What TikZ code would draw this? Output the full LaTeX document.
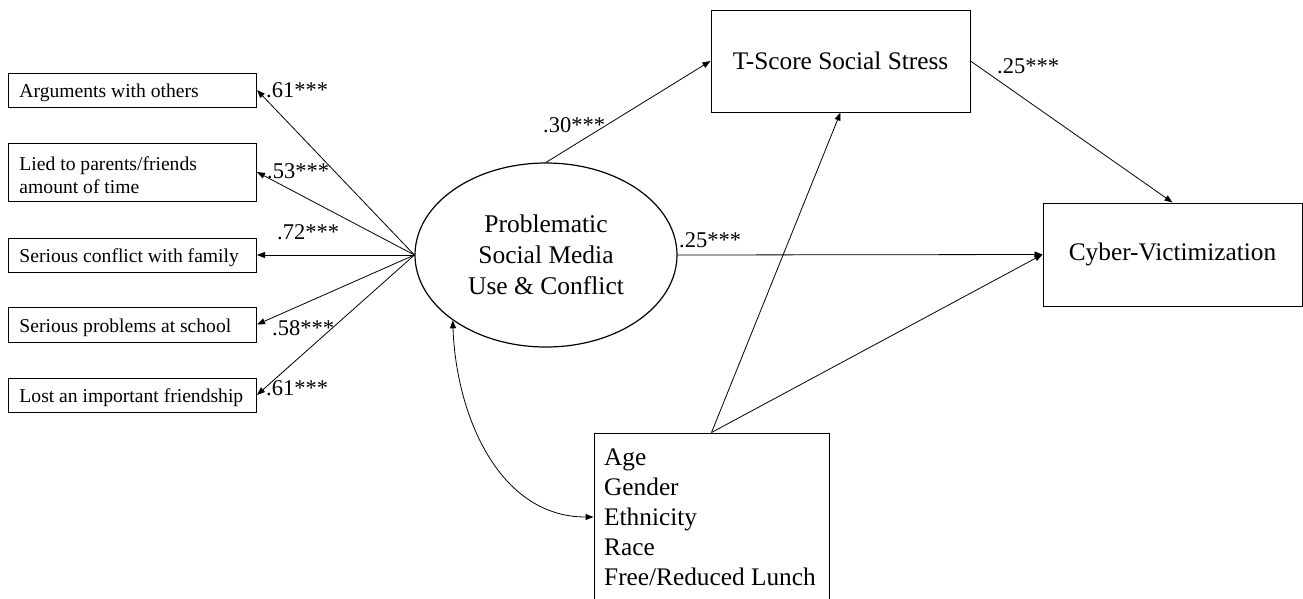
\documentclass[tikz,border=0pt]{standalone}
\usepackage{fontspec}
\setmainfont{Liberation Serif}
\usetikzlibrary{shapes.geometric,arrows.meta}
\newcommand{\indline}[1]{\makebox[226pt][l]{\raisebox{-3pt}[\height][\depth]{#1}}}
\tikzset{
  ind/.style={draw, line width=1pt, rectangle, minimum width=248pt, inner xsep=11pt, inner ysep=0pt, align=left, font=\fontsize{19.6}{23}\selectfont},
  bigbox/.style={draw, line width=1pt, rectangle, inner sep=0pt, font=\fontsize{25.3}{30}\selectfont},
  lat/.style={draw, line width=1.2pt, ellipse, minimum width=262pt, minimum height=184pt, inner sep=0pt, align=center, font=\fontsize{25.5}{31}\selectfont},
  coef/.style={anchor=base west, inner sep=0pt, font=\fontsize{22.5}{24}\selectfont},
  path/.style={line width=0.8pt, -{Triangle[length=8pt,width=6pt]}},
  cov/.style={line width=0.8pt, {Triangle[length=8pt,width=6pt]}-{Triangle[length=8pt,width=6pt]}}
}
\begin{document}
\begin{tikzpicture}[x=1pt,y=-1pt]
\useasboundingbox (0,0) rectangle (1303,598);
\clip (0,0) rectangle (1303,598);
% indicators
\node[ind, minimum height=34pt] (b1) at (132.5,90) {\indline{Arguments with others}};
\node[ind, minimum height=58pt] (b2) at (132.5,172) {\indline{Lied to parents/friends}\\\indline{amount of time}};
\node[ind, minimum height=34pt] (b3) at (132.5,255) {\indline{Serious conflict with family}};
\node[ind, minimum height=35pt] (b4) at (132.5,324.5) {\indline{Serious problems at school}};
\node[ind, minimum height=34pt] (b5) at (132.5,395) {\indline{Lost an important friendship}};
% latent
\node[lat] (psm) at (546,255) {Problematic\\Social Media\\Use \& Conflict};
% outcomes
\node[bigbox, minimum width=259pt, minimum height=102pt] (ts) at (840.5,61) {T-Score Social Stress};
\node[bigbox, minimum width=259pt, minimum height=103pt] (cv) at (1172.5,254.5) {Cyber-Victimization};
% covariates
\node[bigbox, minimum width=235pt, minimum height=168pt] (covb) at (711.5,517) {};
\node[anchor=north west, inner sep=0pt, align=left, font=\fontsize{25.3}{30}\selectfont] (covt) at (604,448.5) {Age\\Gender\\Ethnicity\\Race\\Free/Reduced Lunch};
% loadings
\draw[path] (psm.west) -- (b1.east);
\draw[path] (psm.west) -- (b2.east);
\draw[path] (psm.west) -- (b3.east);
\draw[path] (psm.west) -- (b4.east);
\draw[path] (psm.west) -- (b5.east);
% structural paths
\draw[path] (psm.north) -- (ts.west);
\draw[path] (psm.east) -- (cv.west);
\draw[path] (ts.east) -- (cv.north);
\draw[path] (covb.north) -- (ts.south);
\draw[path] (covb.north) -- (cv.west);
\draw[cov] (psm.215) to[out=-88,in=180] (covb.west);
% coefficients
\node[coef] (l1) at (266,97) {.61***};
\node[coef] (l2) at (267,178) {.53***};
\node[coef] (l3) at (277,239) {.72***};
\node[coef] (l4) at (272,335) {.58***};
\node[coef] (l5) at (266,395) {.61***};
\node[coef] (l6) at (543,132) {.30***};
\node[coef] (l7) at (679,247) {.25***};
\node[coef] (l8) at (997,73) {.25***};
\end{tikzpicture}
\end{document}
